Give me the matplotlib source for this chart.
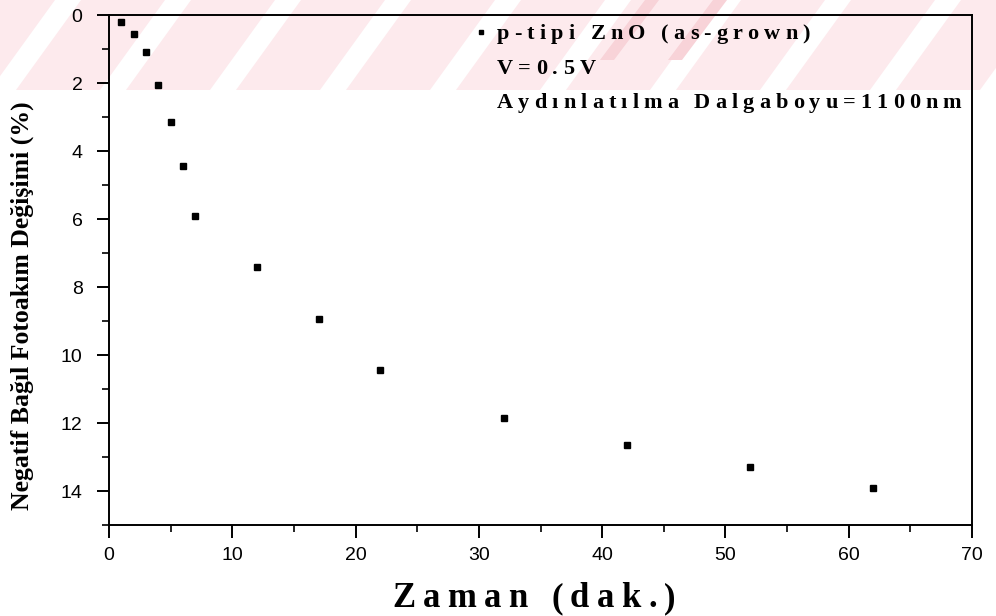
import matplotlib
matplotlib.use("Agg")
import matplotlib.pyplot as plt
from matplotlib.patches import Polygon, Rectangle
from matplotlib.ticker import MultipleLocator

# data
zaman = [1, 2, 3, 4, 5, 6, 7, 12, 17, 22, 32, 42, 52, 62]
degisim = [0.2, 0.55, 1.1, 2.05, 3.15, 4.45, 5.9, 7.4, 8.95, 10.45, 11.85, 12.65, 13.3, 13.9]
x_ticks = [0, 10, 20, 30, 40, 50, 60, 70]
y_ticks = [0, 2, 4, 6, 8, 10, 12, 14]
legend_lines = ["p-tipi ZnO (as-grown)", "V=0.5V", "Aydınlatılma Dalgaboyu=1100nm"]

W, H = 996, 616
SERIF = "Liberation Serif"
SANS = "Liberation Sans"


def px(x, y):
    """pixel position (from top-left) -> figure fraction"""
    return x / W, 1 - y / H


def tracked_text(fig, x, y, s, tracking, **kw):
    """draw text char by char with extra letter spacing (pixels)"""
    renderer = fig.canvas.get_renderer()
    cur = x
    for ch in s:
        t = fig.text(*px(cur, y), ch, ha="left", va="baseline", **kw)
        w = t.get_window_extent(renderer).width
        if ch == " ":
            w = kw.get("fontsize", 12) * 100 / 72 * 0.25
        cur += w + tracking
    return cur


fig = plt.figure(figsize=(W / 100, H / 100), dpi=100, facecolor="white")

# faint pink watermark band at the top
band_h = 90
fig.patches.append(Rectangle(px(0, band_h), 1, band_h / H, transform=fig.transFigure,
                             facecolor="#fdeaed", edgecolor="none", zorder=-10))
for k in range(-1, 10):
    x0 = k * 110 - 10
    pts = [px(x0, band_h), px(x0 + 26, band_h), px(x0 + 26 + 65, 0), px(x0 + 65, 0)]
    fig.patches.append(Polygon(pts, closed=True, transform=fig.transFigure,
                               facecolor="white", edgecolor="none", zorder=-9))
for x0 in [600, 668]:
    pts = [px(x0, 60), px(x0 + 14, 60), px(x0 + 14 + 45, 0), px(x0 + 45, 0)]
    fig.patches.append(Polygon(pts, closed=True, transform=fig.transFigure,
                               facecolor="#f8d3d8", edgecolor="none", zorder=-8))

# axes box
left, right, top, bottom = 109, 972, 15, 525
ax = fig.add_axes([left / W, 1 - bottom / H, (right - left) / W, (bottom - top) / H])
ax.set_facecolor("none")

ax.plot(zaman, degisim, linestyle="none", marker="s", markersize=4.5,
        color="black")

ax.set_xlim(0, 70)
ax.set_ylim(15, 0)
ax.set_xticks(x_ticks)
ax.set_yticks(y_ticks)
ax.xaxis.set_minor_locator(MultipleLocator(5))
ax.yaxis.set_minor_locator(MultipleLocator(1))
ax.tick_params(which="major", direction="out", length=9, width=1.4, pad=7,
               labelsize=14, top=False, right=False)
ax.tick_params(which="minor", direction="out", length=5, width=1.2,
               top=False, right=False)
ax.tick_params(axis="y", pad=10)
for lab in ax.get_xticklabels() + ax.get_yticklabels():
    lab.set_fontfamily(SANS)
for sp in ax.spines.values():
    sp.set_linewidth(1.4)

# axis titles
fig.text(*px(22, 306), "Negatif Bağıl Fotoakım Değişimi (%)", rotation=90,
         ha="center", va="center", fontsize=18.5, fontweight="bold", family=SERIF)
tracked_text(fig, 392, 607, "Zaman (dak.)", 7.4, fontsize=25, fontweight="bold",
             family=SERIF)

# legend block
lx, ly = 481, 32
ax.plot([(lx - left) / (right - left)], [1 - (ly - top) / (bottom - top)],
        transform=ax.transAxes, linestyle="none", marker="s", markersize=3.5,
        color="black", clip_on=False)
baselines = [39, 74, 108]
starts = [497, 497, 497]
for s, x0, b in zip(legend_lines, starts, baselines):
    tracked_text(fig, x0, b, s, 5.1, fontsize=16, fontweight="bold", family=SERIF)

fig.savefig("out.png", dpi=100, facecolor="white")
